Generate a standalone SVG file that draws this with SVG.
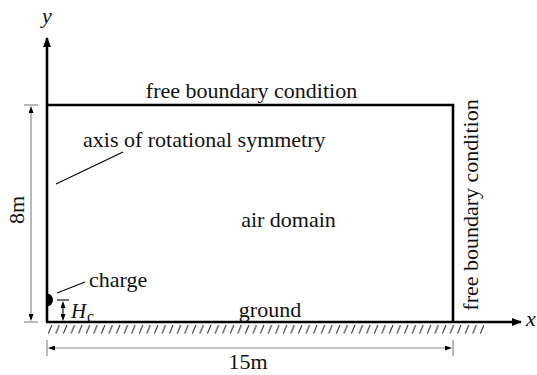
<svg xmlns="http://www.w3.org/2000/svg" width="537" height="375" viewBox="0 0 537 375">
<style>
text{font-family:"Liberation Serif","Times New Roman",serif;font-size:22px;fill:#111}
.main{stroke:#000;stroke-width:2.6;fill:none}
.dim{stroke:#8a8a8a;stroke-width:1.2;fill:none}
.blk{stroke:#000;stroke-width:1.1;fill:none}
.it{font-style:italic}
</style>
<defs>
<marker id="axarr" viewBox="0 0 10 8" refX="9" refY="4" markerWidth="10" markerHeight="8" markerUnits="userSpaceOnUse" orient="auto">
<path d="M0,0 L10,4 L0,8 Z" fill="#000"/>
</marker>
<marker id="darr" viewBox="0 0 7 5" refX="7" refY="2.5" markerWidth="7" markerHeight="5" markerUnits="userSpaceOnUse" orient="auto">
<path d="M0,0 L7,2.5 L0,5 Z" fill="#000"/>
</marker>
<pattern id="hatch" patternUnits="userSpaceOnUse" x="48" y="324" width="7.58" height="10">
<line x1="0.3" y1="9.5" x2="3.8" y2="1" stroke="#222" stroke-width="1"/>
</pattern>
</defs>

<g id="connectors">
<line class="main" x1="47" y1="322" x2="47" y2="38" marker-end="url(#axarr)"/>
<line class="main" x1="46" y1="322" x2="521" y2="322" marker-end="url(#axarr)"/>
<polyline class="main" points="47,105 453,105 453,322"/>
<rect x="48" y="324" width="436" height="10" fill="url(#hatch)"/>
<line class="dim" x1="24" y1="105" x2="38" y2="105"/>
<line class="dim" x1="24" y1="322" x2="38" y2="322"/>
<line class="dim" x1="31" y1="110" x2="31" y2="318"/>
<line class="blk" x1="31" y1="130" x2="31" y2="106" marker-end="url(#darr)" stroke-opacity="0"/>
<line class="blk" x1="31" y1="300" x2="31" y2="321" marker-end="url(#darr)" stroke-opacity="0"/>
<line class="dim" x1="47" y1="340" x2="47" y2="356"/>
<line class="dim" x1="453" y1="340" x2="453" y2="356"/>
<line class="dim" x1="50" y1="348" x2="450" y2="348"/>
<line class="blk" x1="80" y1="348" x2="48" y2="348" marker-end="url(#darr)" stroke-opacity="0"/>
<line class="blk" x1="420" y1="348" x2="452" y2="348" marker-end="url(#darr)" stroke-opacity="0"/>
<line class="blk" x1="56" y1="184" x2="123" y2="152"/>
<line class="blk" x1="57" y1="293" x2="85" y2="282"/>
<line class="blk" x1="57" y1="300" x2="69" y2="300"/>
<line class="blk" x1="63" y1="303" x2="63" y2="319"/>
<line class="blk" x1="63" y1="310" x2="63" y2="301" marker-end="url(#darr)" stroke-opacity="0"/>
<line class="blk" x1="63" y1="312" x2="63" y2="321" marker-end="url(#darr)" stroke-opacity="0"/>
</g>

<g id="charge">
<path d="M47,293.5 A6,6.5 0 0 1 47,306.5 Z" fill="#000"/>
<text x="89" y="287">charge</text>
</g>

<g id="hc">
<text x="71" y="318" class="it" style="font-size:21px">H</text>
<text x="87" y="322" style="font-size:16px">c</text>
</g>

<g id="labels">
<text x="47" y="23" class="it" text-anchor="middle">y</text>
<text x="526" y="326" class="it">x</text>
<text x="251.5" y="98" text-anchor="middle">free boundary condition</text>
<text x="83" y="147">axis of rotational symmetry</text>
<text x="288.5" y="227" text-anchor="middle">air domain</text>
<text x="270" y="317" text-anchor="middle">ground</text>
<text x="248" y="369" text-anchor="middle">15m</text>
<text transform="translate(24,210) rotate(-90)" text-anchor="middle">8m</text>
<text transform="translate(478,205) rotate(-90)" text-anchor="middle">free boundary condition</text>
</g>
</svg>
